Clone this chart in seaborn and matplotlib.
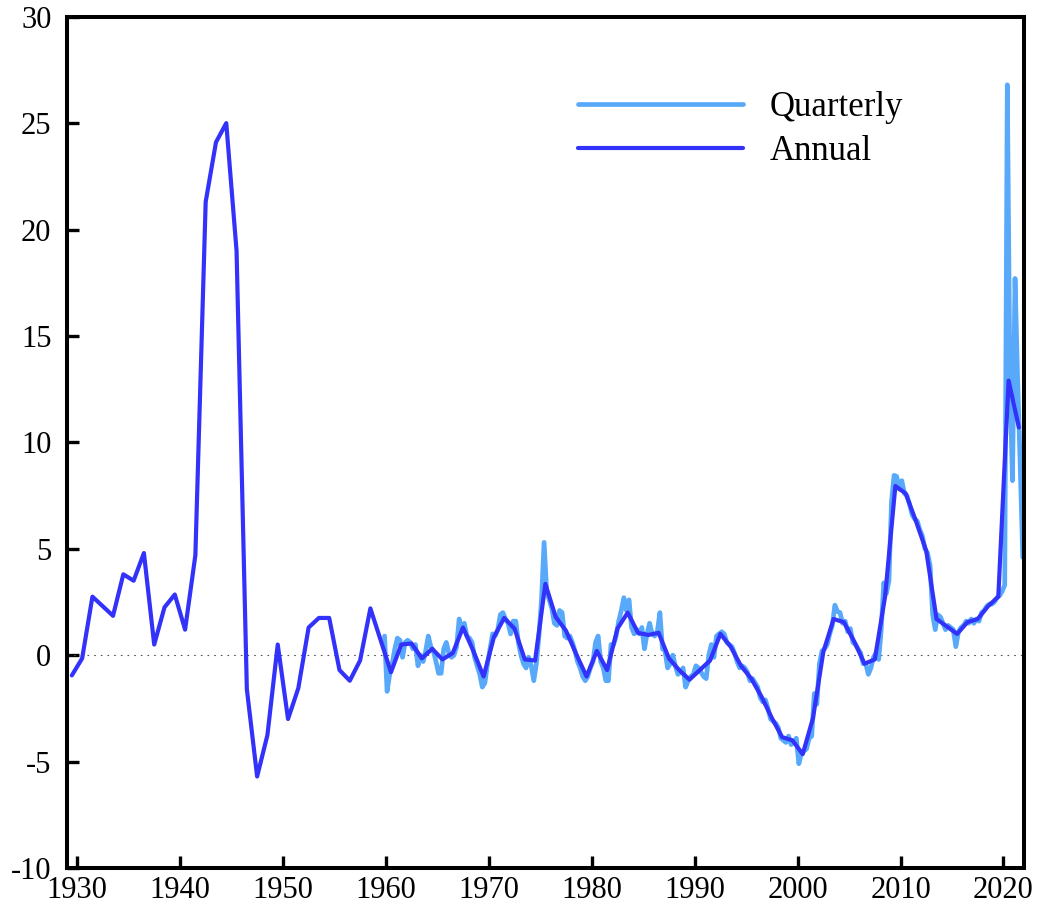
import numpy as np
import pandas as pd
import matplotlib
matplotlib.use("Agg")
import matplotlib.pyplot as plt
import seaborn as sns

# Annual series, one value per calendar year 1929-2021 (percent)
annual_first_year = 1929
annual_values = [
    -0.95,
    -0.15, 2.75, 2.3, 1.85, 3.8, 3.5, 4.8, 0.5, 2.25, 2.85,          # 1930s
    1.2, 4.7, 21.3, 24.1, 25.0, 19.0, -1.6, -5.7, -3.75, 0.5,        # 1940s
    -3.0, -1.55, 1.3, 1.75, 1.75, -0.7, -1.2, -0.25, 2.2, 0.7,       # 1950s
    -0.8, 0.5, 0.55, -0.15, 0.3, -0.2, 0.1, 1.3, 0.2, -1.0,          # 1960s
    0.85, 1.75, 1.25, -0.2, -0.25, 3.35, 1.8, 1.15, 0.05, -1.0,      # 1970s
    0.2, -0.7, 1.25, 2.0, 1.05, 0.95, 1.05, -0.15, -0.7, -1.15,      # 1980s
    -0.7, -0.25, 1.0, 0.4, -0.5, -1.1, -1.95, -2.95, -3.85, -4.0,    # 1990s
    -4.65, -2.95, 0.15, 1.7, 1.55, 0.65, -0.4, -0.2, 2.75, 7.95,     # 2000s
    7.6, 6.3, 4.9, 1.7, 1.35, 1.0, 1.55, 1.7, 2.3, 2.75,             # 2010s
    12.9, 10.7,                                                      # 2020s
]

# Quarterly series, starting 1959 Q4 (percent, annual rate)
quarterly_first_year = 1959
quarterly_first_quarter = 4
quarterly_values = [
    0.9,                          # 1959 Q4
    -1.7, -0.9, -0.4, 0.3,        # 1960
    0.8, 0.7, -0.1, 0.6,          # 1961
    0.7, 0.6, 0.3, 0.5,           # 1962
    -0.5, 0.0, -0.3, 0.2,         # 1963
    0.9, 0.4, 0.2, -0.3,          # 1964
    -0.85, -0.85, 0.3, 0.6,       # 1965
    0.1, -0.1, 0.0, 0.4,          # 1966
    1.7, 1.2, 1.5, 0.9,           # 1967
    0.8, 0.6, -0.1, -0.5,         # 1968
    -0.9, -1.5, -1.3, -0.4,       # 1969
    0.3, 1.0, 0.9, 1.2,           # 1970
    1.9, 2.0, 1.7, 1.5,           # 1971
    1.0, 1.6, 1.6, 0.6,           # 1972
    0.0, -0.4, -0.6, -0.1,        # 1973
    -0.5, -1.2, -0.4, 0.9,        # 1974
    2.6, 5.3, 3.0, 2.6,           # 1975
    2.2, 1.5, 1.4, 2.1,           # 1976
    2.0, 0.9, 0.8, 0.9,           # 1977
    0.6, 0.2, -0.3, -0.6,         # 1978
    -1.0, -1.2, -1.0, -0.6,       # 1979
    -0.3, 0.6, 0.9, -0.3,         # 1980
    -0.6, -1.2, -1.2, 0.5,        # 1981
    0.5, 0.9, 1.6, 2.1,           # 1982
    2.7, 2.1, 2.6, 1.3,           # 1983
    1.0, 1.2, 1.0, 1.3,           # 1984
    0.3, 1.0, 1.5, 1.0,           # 1985
    0.9, 1.1, 2.0, 0.3,           # 1986
    0.2, -0.6, -0.4, 0.0,         # 1987
    -0.5, -0.9, -0.8, -0.6,       # 1988
    -1.5, -1.2, -1.0, -0.9,       # 1989
    -0.5, -0.6, -0.8, -1.0,       # 1990
    -1.1, 0.0, 0.5, -0.1,         # 1991
    0.9, 1.0, 1.1, 1.0,           # 1992
    0.6, 0.5, 0.4, 0.1,           # 1993
    -0.3, -0.6, -0.5, -0.6,       # 1994
    -0.8, -1.2, -1.1, -1.3,       # 1995
    -1.5, -2.0, -2.2, -2.1,       # 1996
    -2.5, -3.0, -3.1, -3.2,       # 1997
    -3.4, -3.9, -4.0, -4.1,       # 1998
    -3.8, -4.2, -4.1, -3.9,       # 1999
    -5.1, -4.6, -4.5, -4.4,       # 2000
    -3.9, -3.8, -1.8, -2.3,       # 2001
    -0.4, 0.2, 0.3, 0.5,          # 2002
    1.0, 1.4, 2.35, 2.05,         # 2003
    2.0, 1.5, 1.6, 1.1,           # 2004
    1.25, 0.6, 0.5, 0.3,          # 2005
    0.1, -0.4, -0.4, -0.9,        # 2006
    -0.6, -0.1, 0.1, -0.2,        # 2007
    1.2, 3.4, 2.9, 3.5,           # 2008
    7.2, 8.45, 8.4, 7.8,          # 2009
    8.2, 7.6, 7.5, 7.1,           # 2010
    6.6, 6.4, 6.3, 5.9,           # 2011
    5.6, 5.0, 4.8, 4.2,           # 2012
    1.9, 1.2, 1.9, 1.8,           # 2013
    1.5, 1.2, 1.4, 1.3,           # 2014
    1.2, 0.4, 1.1, 1.3,           # 2015
    1.4, 1.6, 1.5, 1.7,           # 2016
    1.5, 1.7, 1.6, 2.0,           # 2017
    2.1, 2.3, 2.4, 2.4,           # 2018
    2.5, 2.7, 2.8, 3.0,           # 2019
    3.3, 26.8, 13.0, 8.2,         # 2020
    17.7, 13.0, 9.0, 4.6,         # 2021
]

x_ticks = list(range(1930, 2021, 10))
y_ticks = list(range(-10, 31, 5))
series_labels = ["Quarterly", "Annual"]
series_colors = ["#58A9FA", "#3232FA"]

# Time axis: annual points sit at mid-year, quarterly points at mid-quarter
annual = pd.DataFrame({
    "t": np.arange(len(annual_values)) + annual_first_year + 0.5,
    "value": annual_values,
})
q_index = np.arange(len(quarterly_values)) + (quarterly_first_quarter - 1)
quarterly = pd.DataFrame({
    "t": quarterly_first_year + (q_index + 0.5) / 4.0,
    "value": quarterly_values,
})

sns.set_style("ticks")
plt.rcParams["font.family"] = ["Liberation Serif", "DejaVu Serif"]
plt.rcParams["axes.unicode_minus"] = False
plt.rcParams["text.color"] = "black"

fig = plt.figure(figsize=(10.39, 9.09), dpi=100)
ax = fig.add_axes([0.0642, 0.0451, 0.9214, 0.9365])

ax.axhline(0, color="#555555", lw=0.8, linestyle=(0, (1.5, 4.5)), zorder=1)

sns.lineplot(data=quarterly, x="t", y="value", ax=ax, color=series_colors[0],
             lw=3.4, label=series_labels[0], zorder=2)
sns.lineplot(data=annual, x="t", y="value", ax=ax, color=series_colors[1],
             lw=3.0, label=series_labels[1], zorder=3)

ax.set_xlim(1929, 2022)
ax.set_ylim(-10, 30)
ax.set_xticks(x_ticks)
ax.set_yticks(y_ticks)
ax.set_xlabel("")
ax.set_ylabel("")

for side in ["left", "right", "top", "bottom"]:
    ax.spines[side].set_visible(True)
    ax.spines[side].set_linewidth(2.9)
    ax.spines[side].set_color("black")

ax.tick_params(axis="both", direction="in", length=8.6, width=2.4,
               labelsize=22, top=False, right=False, colors="black")
ax.tick_params(axis="x", pad=6)
ax.tick_params(axis="y", pad=11)

leg = ax.legend(loc="upper left", bbox_to_anchor=(578 / 1039, 1 - 91 / 909),
                bbox_transform=fig.transFigure, frameon=False, fontsize=25,
                handlelength=4.75, handletextpad=0.78, labelspacing=0.33,
                borderpad=0, borderaxespad=0)
for txt in leg.get_texts():
    txt.set_color("black")

fig.savefig("out.png", dpi=100, facecolor="white")
